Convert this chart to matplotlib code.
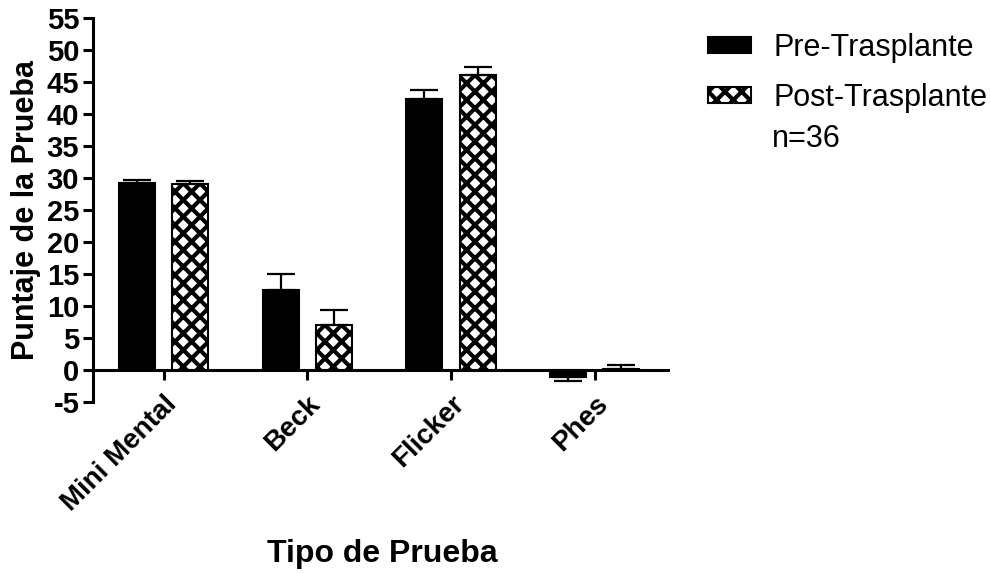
import numpy as np
import matplotlib
matplotlib.use("Agg")
import matplotlib.pyplot as plt

plt.rcParams['font.family'] = ['Liberation Sans', 'DejaVu Sans']
plt.rcParams['hatch.linewidth'] = 3.0
plt.rcParams['axes.unicode_minus'] = False

categories = ["Mini Mental", "Beck", "Flicker", "Phes"]
pre_vals = [29.2, 12.5, 42.4, -1.1]
pre_err = [0.5, 2.5, 1.3, 0.6]
post_vals = [29.0, 7.0, 46.0, 0.2]
post_err = [0.5, 2.4, 1.3, 0.6]
yticks = list(range(-5, 60, 5))

fig = plt.figure(figsize=(9.91, 5.73), dpi=100)
ax = fig.add_axes([0.094, 0.298, 0.580, 0.671])

# spine position first, it resets the ticks
ax.spines['top'].set_visible(False)
ax.spines['right'].set_visible(False)
ax.spines['bottom'].set_position(('data', 0))
ax.spines['left'].set_linewidth(2.2)
ax.spines['bottom'].set_linewidth(2.2)

x = np.arange(len(categories))
w = 0.25
off = 0.185

def one_sided(vals, errs):
    lo = [e if v < 0 else 0 for v, e in zip(vals, errs)]
    hi = [e if v >= 0 else 0 for v, e in zip(vals, errs)]
    return [lo, hi]

ekw = dict(elinewidth=1.6, capthick=1.6, ecolor="black")
ax.bar(x - off, pre_vals, w, color="black", edgecolor="black", linewidth=1.5,
       yerr=one_sided(pre_vals, pre_err), capsize=10, error_kw=ekw,
       label="Pre-Trasplante", zorder=2)
ax.bar(x + off, post_vals, w, color="white", edgecolor="black", linewidth=1.5,
       hatch="xx", yerr=one_sided(post_vals, post_err), capsize=10, error_kw=ekw,
       label="Post-Trasplante", zorder=2)

ax.set_xlim(-0.49, 3.51)
ax.set_ylim(-5, 55)
ax.set_yticks(yticks)
ax.set_xticks(x)
ax.set_xticklabels(categories, rotation=45, ha="right", rotation_mode="anchor",
                   fontsize=20, fontweight="bold")
for lab in ax.get_yticklabels():
    lab.set_fontsize(21)
    lab.set_fontweight("bold")

ax.tick_params(axis='both', width=2.2, length=7, direction='out', pad=3)
ax.tick_params(axis='x', pad=8)

ax.set_ylabel("Puntaje de la Prueba", fontsize=22, fontweight="bold", labelpad=4)
fig.text(0.386, 0.019, "Tipo de Prueba", fontsize=23, fontweight="bold",
         ha="center", va="baseline")

leg = ax.legend(loc="upper left", bbox_to_anchor=(1.033, 1.016), frameon=False,
                fontsize=22, handlelength=1.4, handleheight=0.45,
                handletextpad=0.75, labelspacing=0.65, borderpad=0.2)
fig.text(0.779, 0.757, "n=36", fontsize=22, ha="left", va="center")

fig.savefig("out.png", dpi=100)
